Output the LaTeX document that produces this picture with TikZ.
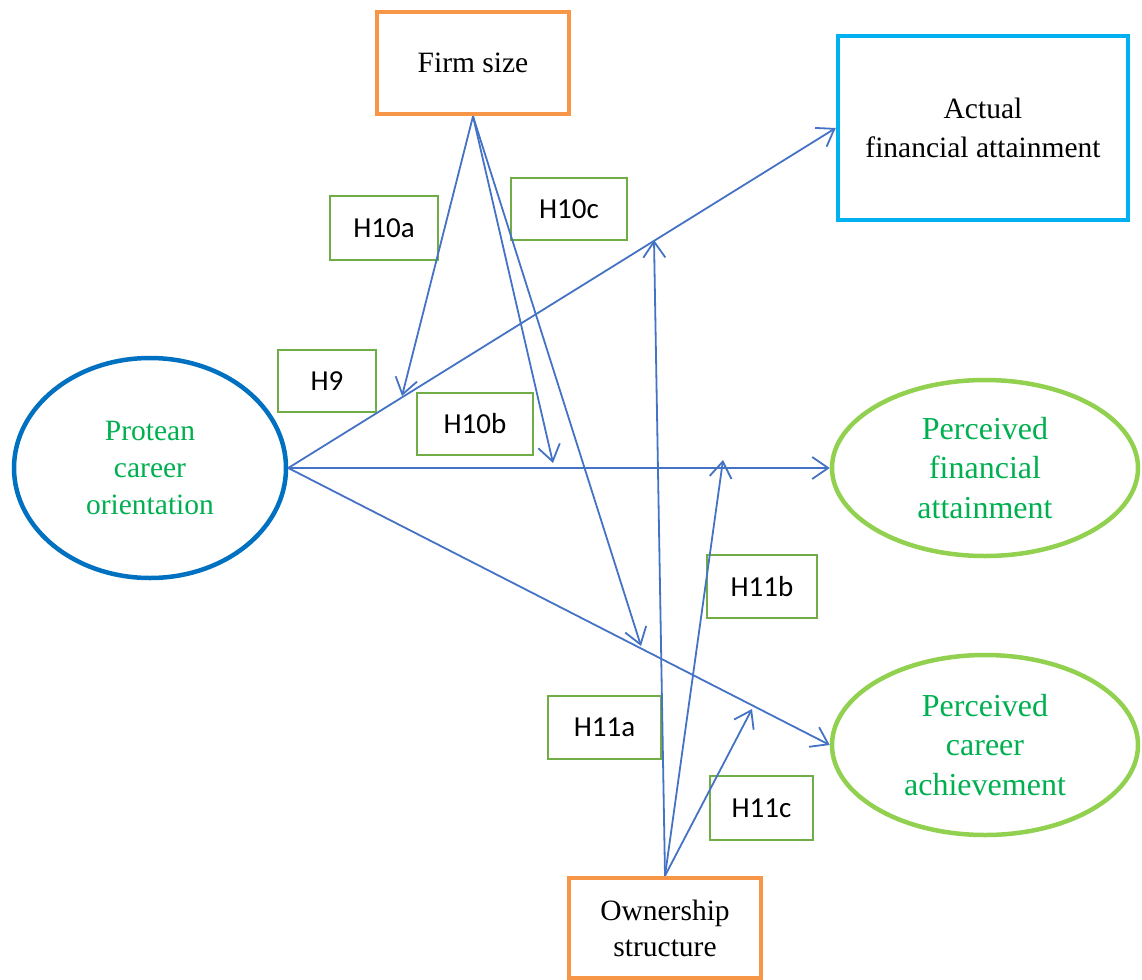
\documentclass[tikz,border=0pt]{standalone}
\usepackage{fontspec}
\setmainfont{Liberation Serif}
\newfontfamily\labelfont{Carlito}
\usetikzlibrary{arrows.meta,shapes.geometric}

\definecolor{boxorange}{HTML}{F79646}
\definecolor{boxcyan}{HTML}{00B0F0}
\definecolor{ellblue}{HTML}{0070C0}
\definecolor{ellgreen}{HTML}{92D050}
\definecolor{txtgreen}{HTML}{00B050}
\definecolor{hypgreen}{HTML}{70AD47}
\definecolor{linkblue}{HTML}{4472C4}

\tikzset{
  construct/.style={align=center, inner sep=0pt, font=\fontsize{29.5}{39}\selectfont},
  orangebox/.style={construct, draw=boxorange, line width=4.5pt, rectangle},
  cyanbox/.style={construct, draw=boxcyan, line width=4.5pt, rectangle},
  blueell/.style={construct, ellipse, draw=ellblue, line width=4.5pt, text=txtgreen},
  greenell/.style={construct, ellipse, draw=ellgreen, line width=4.5pt, text=txtgreen,
                   font=\fontsize{32}{39.5}\selectfont},
  hyp/.style={draw=hypgreen, line width=2.2pt, rectangle, inner sep=0pt,
              font=\labelfont\fontsize{29}{32}\selectfont},
  link/.style={draw=linkblue, line width=1.8pt,
               -{Straight Barb[length=16pt,width=22pt,line width=1.8pt]}},
}

\begin{document}
\begin{tikzpicture}[x=1pt,y=-1pt]
\useasboundingbox (0,0) rectangle (1142,979);
\clip (0,0) rectangle (1142,979);

% constructs
\node[orangebox, minimum width=192pt, minimum height=102pt] (fs) at (473,63) {Firm size};
\node[cyanbox, minimum width=290pt, minimum height=184pt] (afa) at (983,128) {Actual\\financial attainment};
\node[blueell, minimum width=272pt, minimum height=220pt, font=\fontsize{29.5}{37}\selectfont] (pco) at (150,468) {Protean\\career\\orientation};
\node[greenell, minimum width=306pt, minimum height=176pt] (pfa) at (985,468) {Perceived\\financial\\attainment};
\node[greenell, minimum width=306pt, minimum height=180pt] (pca) at (985,745) {Perceived\\career\\achievement};
\node[orangebox, minimum width=192pt, minimum height=100pt, font=\fontsize{29.5}{36}\selectfont] (os) at (665,928) {Ownership\\structure};

% hypothesis labels
\node[hyp, minimum width=108pt, minimum height=64pt] (h10a) at (384,228) {H10a};
\node[hyp, minimum width=116pt, minimum height=62pt] (h10c) at (569,209) {H10c};
\node[hyp, minimum width=98pt, minimum height=62pt] (h9) at (327,381) {H9};
\node[hyp, minimum width=116pt, minimum height=62pt] (h10b) at (475,424) {H10b};
\node[hyp, minimum width=110pt, minimum height=63pt] (h11b) at (762,586.5) {H11b};
\node[hyp, minimum width=113pt, minimum height=63pt] (h11a) at (604.5,727.5) {H11a};
\node[hyp, minimum width=103pt, minimum height=64pt] (h11c) at (761.5,808) {H11c};

% direct paths
\draw[link] (pco.east) -- (afa.west);
\draw[link] (pco.east) -- (pfa.west);
\draw[link] (pco.east) -- (pca.west);

% moderating paths end on the direct paths
\coordinate (m10a) at (402,396);
\coordinate (m10b) at (553,463);
\coordinate (m10c) at (641,646);
\coordinate (m11a) at (654,240);
\coordinate (m11b) at (723,460);
\coordinate (m11c) at (752,709);

\draw[link] (fs.south) -- (m10a);
\draw[link] (fs.south) -- (m10b);
\draw[link] (fs.south) -- (m10c);
\draw[link] (os.north) -- (m11a);
\draw[link] (os.north) -- (m11b);
\draw[link] (os.north) -- (m11c);
\end{tikzpicture}
\end{document}
